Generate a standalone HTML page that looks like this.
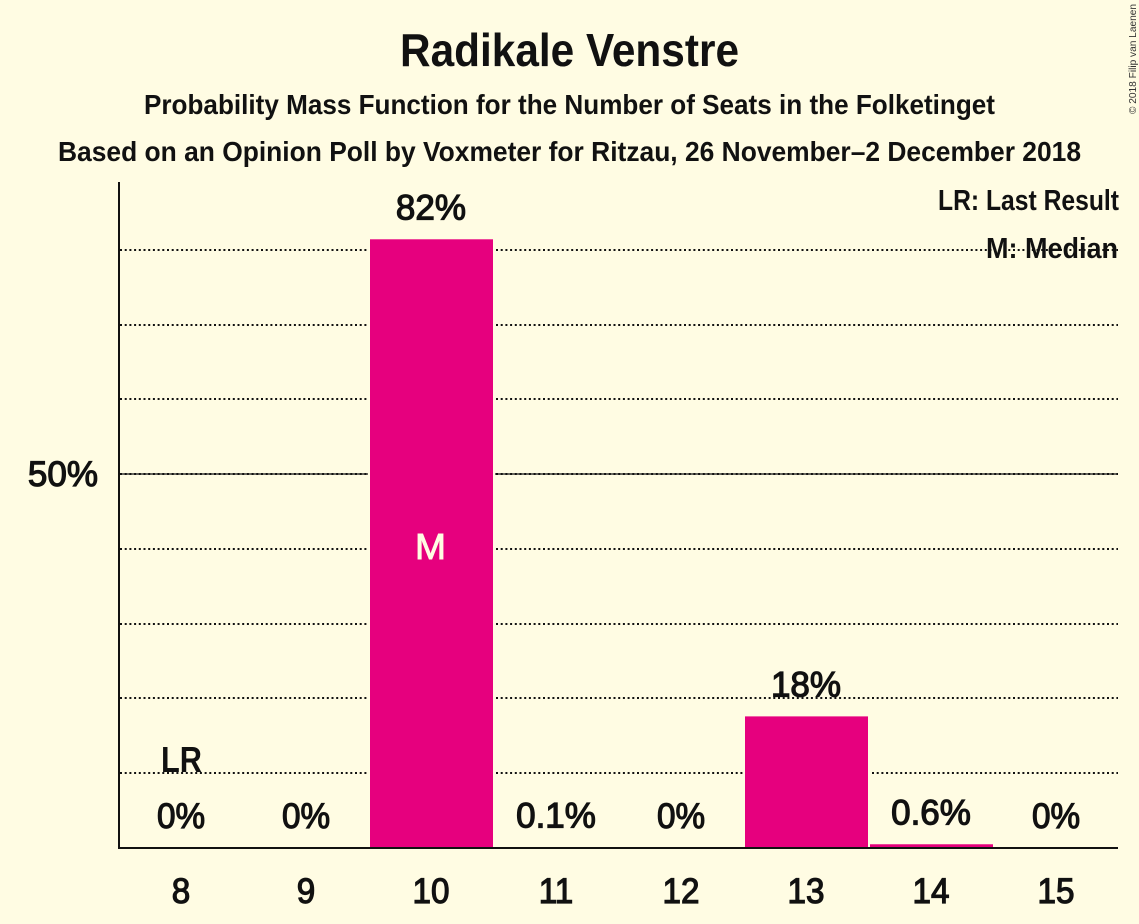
<!DOCTYPE html>
<html lang="en">
<head>
<meta charset="utf-8">
<title>Radikale Venstre</title>
<style>
html,body{margin:0;padding:0;background:#fffce3;}
svg{display:block;}
text{font-family:"Liberation Sans",sans-serif;fill:#111;}
.b{font-weight:700;}
.m{font-weight:400;stroke:#111;stroke-width:1.2px;}
</style>
</head>
<body>
<svg id="chart" width="1139" height="924" viewBox="0 0 1139 924" xmlns="http://www.w3.org/2000/svg">
  <rect x="0" y="0" width="1139" height="924" fill="#fffce3"/>
  <g id="grid"></g>
  <g id="bars"></g>
  <line x1="119" y1="182" x2="119" y2="849" stroke="#111" stroke-width="2"/>
  <line x1="118" y1="848" x2="1118" y2="848" stroke="#111" stroke-width="2"/>
  <g id="labels"></g>
  <g id="xticks"></g>
  <g id="yticks"></g>
  <text class="b" x="400" y="66" font-size="46" textLength="339" lengthAdjust="spacingAndGlyphs">Radikale Venstre</text>
  <text class="b" x="144" y="114" font-size="28" textLength="851" lengthAdjust="spacingAndGlyphs">Probability Mass Function for the Number of Seats in the Folketinget</text>
  <text class="b" x="58" y="161" font-size="28" textLength="1023" lengthAdjust="spacingAndGlyphs">Based on an Opinion Poll by Voxmeter for Ritzau, 26 November–2 December 2018</text>
  <text class="b" x="938" y="210" font-size="29" textLength="181" lengthAdjust="spacingAndGlyphs">LR: Last Result</text>
  <text class="b" x="986" y="258" font-size="29" textLength="132" lengthAdjust="spacingAndGlyphs">M: Median</text>
  <text class="b" x="161" y="772" font-size="36" textLength="41" lengthAdjust="spacingAndGlyphs">LR</text>
  <text x="415" y="559" font-size="36" textLength="31" lengthAdjust="spacingAndGlyphs" style="fill:#fffce3;stroke:#fffce3;stroke-width:0.9px">M</text>
  <text transform="translate(1136,114) rotate(-90)" font-size="10" textLength="110" lengthAdjust="spacingAndGlyphs" style="fill:#333">© 2018 Filip van Laenen</text>
</svg>
<script>
const categories = [8, 9, 10, 11, 12, 13, 14, 15];
const seatProbabilities = [0, 0, 81.4, 0.1, 0, 17.6, 0.5, 0];
const valueLabels = ["0%", "0%", "82%", "0.1%", "0%", "18%", "0.6%", "0%"];
const gridTicks = [10, 20, 30, 40, 50, 60, 70, 80];
const yTickValues = [50];
const yTickLabels = ["50%"];

const NS = 'http://www.w3.org/2000/svg';
const bg = '#fffce3';
function xScale(c) { return 181 + (c - categories[0]) * 125; }
function yScale(v) { return 848 - v * 7.478; }
function make(tag, parent) {
  const el = document.createElementNS(NS, tag);
  document.getElementById(parent).appendChild(el);
  return el;
}
function condense(el) {
  const ratio = el.textContent.length <= 2 ? 0.95 : 1.0;
  const w = el.getComputedTextLength();
  el.setAttribute('textLength', (w * ratio).toFixed(1));
  el.setAttribute('lengthAdjust', 'spacingAndGlyphs');
}

gridTicks.forEach(function (t) {
  const line = make('line', 'grid');
  
  
  line.setAttribute('x1', 120);
  line.setAttribute('x2', 1118);
  line.setAttribute('y1', Math.round(yScale(t)));
  line.setAttribute('y2', Math.round(yScale(t)));
  line.setAttribute('stroke', '#111');
  line.setAttribute('stroke-width', 2);
  line.setAttribute('stroke-dasharray', '2 2.7');
  if (yTickValues.indexOf(t) >= 0) {
    const solid = make('line', 'grid');
    
    
    solid.setAttribute('x1', 120);
    solid.setAttribute('x2', 1118);
    solid.setAttribute('y1', Math.round(yScale(t)));
    solid.setAttribute('y2', Math.round(yScale(t)));
    solid.setAttribute('stroke', '#111');
    solid.setAttribute('stroke-width', 1.2);
  }
});

categories.forEach(function (c, i) {
  const v = seatProbabilities[i];
  const barWidth = 123;
  const left = xScale(c) - 61;
  const top = yScale(v);
  const h = 848 - top;
  if (v > 0) {
    const halo = make('rect', 'bars');
    
    
    halo.setAttribute('x', left - 2);
    halo.setAttribute('y', top - 2);
    halo.setAttribute('width', barWidth + 4);
    halo.setAttribute('height', h + 2);
    halo.setAttribute('fill', bg);
    const bar = make('rect', 'bars');
    
    
    bar.setAttribute('x', left);
    bar.setAttribute('y', top);
    bar.setAttribute('width', barWidth);
    bar.setAttribute('height', h);
    bar.setAttribute('fill', '#e6007e');
  }
  const label = make('text', 'labels');
  
  
  label.setAttribute('x', xScale(c));
  label.setAttribute('y', top - 20);
  label.setAttribute('text-anchor', 'middle');
  label.setAttribute('font-size', 35);
  label.setAttribute('class', 'm');
  label.textContent = valueLabels[i];
  condense(label);

  const tick = make('text', 'xticks');
  
  
  tick.setAttribute('x', xScale(c));
  tick.setAttribute('y', 903);
  tick.setAttribute('text-anchor', 'middle');
  tick.setAttribute('font-size', 35);
  tick.setAttribute('class', 'm');
  tick.textContent = String(c);
  condense(tick);
});

yTickValues.forEach(function (t, i) {
  const tick = make('text', 'yticks');
  
  
  tick.setAttribute('x', 98);
  tick.setAttribute('y', yScale(t) + 12);
  tick.setAttribute('text-anchor', 'end');
  tick.setAttribute('font-size', 35);
  tick.setAttribute('class', 'm');
  tick.textContent = yTickLabels[i];
  condense(tick);
});
</script>
</body>
</html>
